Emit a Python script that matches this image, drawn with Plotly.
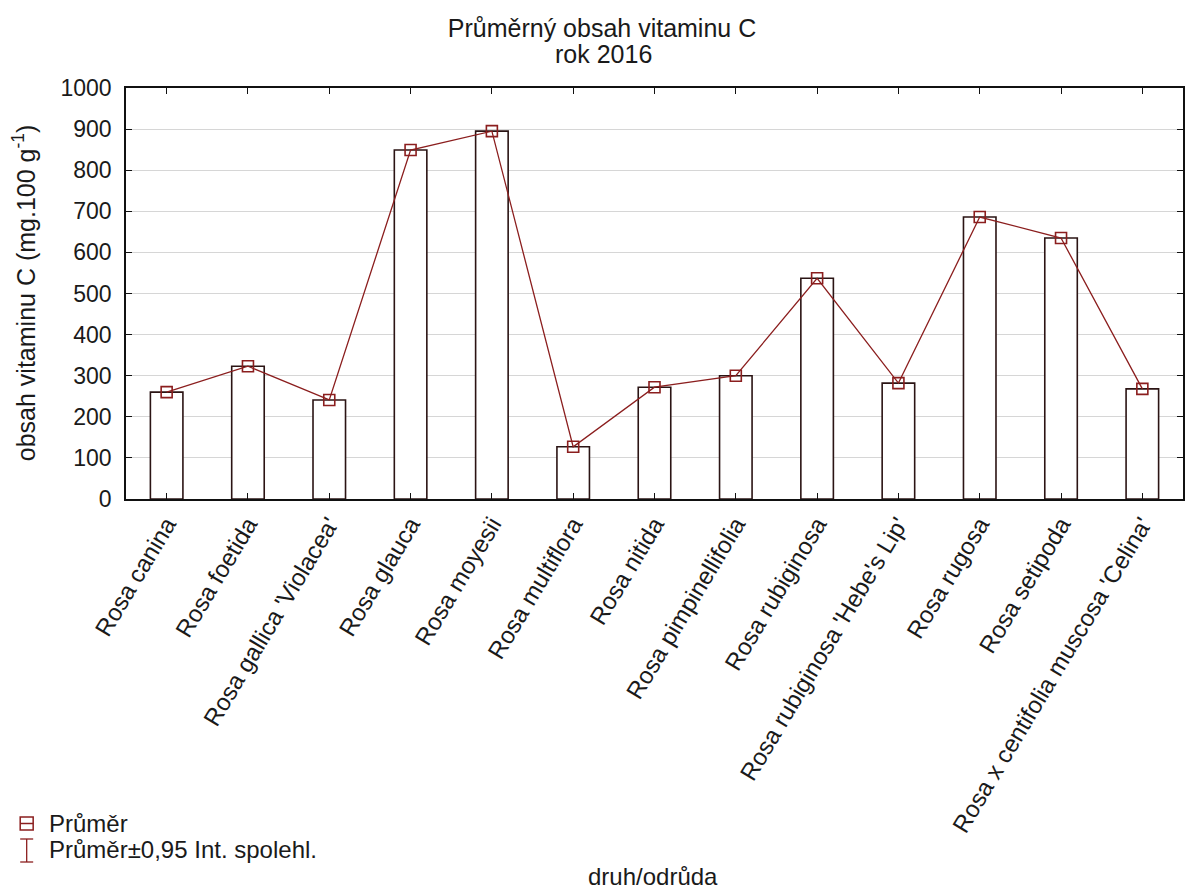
import plotly.graph_objects as go

categories = [
    "Rosa canina", "Rosa foetida", "Rosa gallica 'Violacea'", "Rosa glauca",
    "Rosa moyesii", "Rosa multiflora", "Rosa nitida", "Rosa pimpinellifolia",
    "Rosa rubiginosa", "Rosa rubiginosa 'Hebe's Lip'", "Rosa rugosa",
    "Rosa setipoda", "Rosa x centifolia muscosa 'Celina'",
]
means = [260, 323, 241, 849, 895, 127, 272, 300, 537, 282, 686, 635, 268]
y_ticks = [0, 100, 200, 300, 400, 500, 600, 700, 800, 900, 1000]

FONT = "Liberation Sans, Arial, sans-serif"
TXT = "#1a1a1a"
RED = "#8B1E1E"
BAR_EDGE = "#2b1414"

W, H = 1187, 890
L, R, T, B = 126, 2, 88, 391

fig = go.Figure()
fig.add_trace(go.Bar(
    x=categories, y=means, width=0.40,
    marker=dict(color="white", line=dict(color=BAR_EDGE, width=1.6)),
    showlegend=False, hoverinfo="skip",
))
fig.add_trace(go.Scatter(
    x=categories, y=means, mode="lines+markers",
    line=dict(color=RED, width=1.3),
    marker=dict(symbol="square-open", size=11, color=RED, line=dict(width=1.6)),
    showlegend=False,
))

def px2paper(px, py):
    return (px - L) / (W - L - R), (H - B - py) / (H - T - B)

shapes = []
# legend glyph 1: square with horizontal bar
x0, y0 = px2paper(20, 817)
x1, y1 = px2paper(33, 830)
shapes.append(dict(type="rect", xref="paper", yref="paper", x0=x0, y0=y0, x1=x1, y1=y1,
                   line=dict(color=RED, width=1.5)))
xa, ym = px2paper(20, 823.5)
xb, _ = px2paper(33, 823.5)
shapes.append(dict(type="line", xref="paper", yref="paper", x0=xa, y0=ym, x1=xb, y1=ym,
                   line=dict(color=RED, width=1.5)))
# legend glyph 2: I-shaped whisker
xc, yt = px2paper(26.5, 839)
_, yb = px2paper(26.5, 862)
xl, _ = px2paper(20, 839)
xr, _ = px2paper(33, 839)
shapes.append(dict(type="line", xref="paper", yref="paper", x0=xc, y0=yt, x1=xc, y1=yb,
                   line=dict(color=RED, width=1.3)))
shapes.append(dict(type="line", xref="paper", yref="paper", x0=xl, y0=yt, x1=xr, y1=yt,
                   line=dict(color=RED, width=1.3)))
shapes.append(dict(type="line", xref="paper", yref="paper", x0=xl, y0=yb, x1=xr, y1=yb,
                   line=dict(color=RED, width=1.3)))

annotations = []
def add_text(text, px, py, size, xanchor="left", angle=0):
    tx, ty = px2paper(px, py)
    annotations.append(dict(text=text, xref="paper", yref="paper", x=tx, y=ty,
                            xanchor=xanchor, yanchor="middle", showarrow=False,
                            textangle=angle, font=dict(family=FONT, size=size, color=TXT)))

add_text("Průměr", 47, 823, 24)
add_text("Průměr±0,95 Int. spolehl.", 47, 849, 24)
add_text("druh/odrůda", 654, 876, 24, xanchor="center")
add_text("rok 2016", 604, 54, 25, xanchor="center")
add_text("obsah vitaminu C (mg.100 g<sup>-1</sup>)", 24, 293, 25, xanchor="center", angle=-90)

fig.update_layout(
    width=W, height=H,
    margin=dict(l=L, r=R, t=T, b=B),
    paper_bgcolor="white", plot_bgcolor="white",
    title=dict(text="Průměrný obsah vitaminu C", x=602 / W, xref="container",
               xanchor="center", y=1 - 28 / H, yanchor="middle",
               font=dict(family=FONT, size=25, color=TXT)),
    font=dict(family=FONT, color=TXT),
    shapes=shapes,
    annotations=annotations,
)
fig.update_xaxes(
    type="category", tickangle=-59,
    tickfont=dict(family=FONT, size=24, color=TXT),
    showline=True, linecolor="#111", linewidth=1.6, mirror="allticks",
    ticks="inside", ticklen=6, tickcolor="#111", tickwidth=1,
    showgrid=False, range=[-0.5, len(categories) - 0.5],
)
fig.update_yaxes(
    range=[0, 1000], tickvals=y_ticks,
    tickfont=dict(family=FONT, size=23, color=TXT),
    showline=True, linecolor="#111", linewidth=1.6, mirror="allticks",
    ticks="inside", ticklen=6, tickcolor="#111", tickwidth=1,
    ticklabelstandoff=8,
    showgrid=True, gridcolor="#d6d6d6", gridwidth=1.2, zeroline=False,
)

fig.write_html("out.html")
